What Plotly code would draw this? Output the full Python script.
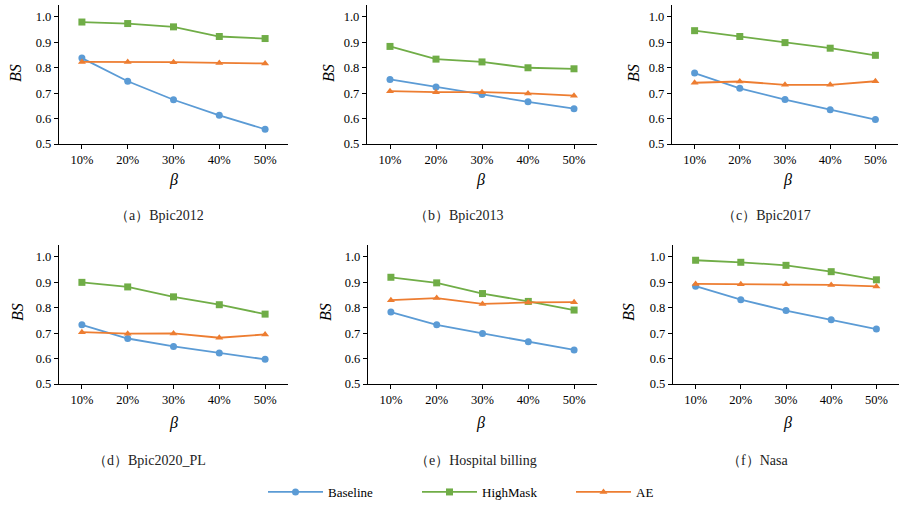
import plotly.graph_objects as go

categories = ["10%", "20%", "30%", "40%", "50%"]
panel_titles = ["（a）Bpic2012", "（b）Bpic2013", "（c）Bpic2017",
                "（d）Bpic2020_PL", "（e）Hospital billing", "（f）Nasa"]

baseline = [
    [0.838, 0.747, 0.674, 0.613, 0.558],
    [0.754, 0.724, 0.695, 0.666, 0.639],
    [0.779, 0.719, 0.675, 0.635, 0.596],
    [0.733, 0.679, 0.648, 0.622, 0.597],
    [0.783, 0.733, 0.699, 0.666, 0.634],
    [0.885, 0.832, 0.789, 0.753, 0.716],
]
highmask = [
    [0.980, 0.974, 0.961, 0.923, 0.915],
    [0.884, 0.834, 0.823, 0.800, 0.796],
    [0.946, 0.923, 0.899, 0.877, 0.849],
    [0.900, 0.882, 0.843, 0.812, 0.775],
    [0.920, 0.898, 0.856, 0.825, 0.791],
    [0.987, 0.979, 0.967, 0.942, 0.910],
]
ae = [
    [0.823, 0.823, 0.822, 0.819, 0.817],
    [0.708, 0.704, 0.704, 0.699, 0.690],
    [0.741, 0.746, 0.733, 0.733, 0.747],
    [0.704, 0.698, 0.699, 0.682, 0.695],
    [0.830, 0.838, 0.815, 0.821, 0.822],
    [0.894, 0.893, 0.893, 0.890, 0.884],
]
y_ticks = [0.5, 0.6, 0.7, 0.8, 0.9, 1.0]

W, H = 899, 506
BLUE, GREEN, ORANGE = "#5B9BD5", "#70AD47", "#ED7D31"
SERIF = "Liberation Serif"

# plot-area pixel boxes: (left, right, top, bottom)
boxes = [
    (59, 288, 5, 144), (367, 597, 5, 144), (672, 898, 5, 144),
    (59, 288, 245, 384), (368, 597, 245, 384), (673, 899, 245, 384),
]
bs_pos = [(15, 73), (328, 73), (633, 73), (17, 312), (325, 312), (628, 312)]
beta_pos = [(173, 180), (480, 180), (787, 180), (173, 423), (480, 423), (787, 423)]
title_pos = [(159, 215), (458, 215), (766, 215), (149, 460), (476, 460), (757, 460)]

def px(x):
    return x / W

def py(y):
    return 1 - y / H

fig = go.Figure()
series = [("Baseline", baseline, BLUE, "circle"),
          ("HighMask", highmask, GREEN, "square"),
          ("AE", ae, ORANGE, "triangle-up")]

def label(x, y, text, size, angle=0, color="black"):
    fig.add_annotation(x=px(x), y=py(y), xref="paper", yref="paper",
                       xanchor="center", yanchor="middle",
                       text=text, showarrow=False, textangle=angle,
                       font=dict(family=SERIF, size=size, color=color))

for i in range(6):
    ax = "" if i == 0 else str(i + 1)
    for name, data, color, sym in series:
        fig.add_trace(go.Scatter(
            x=categories, y=data[i], name=name, mode="lines+markers",
            line=dict(color=color, width=1.8),
            marker=dict(symbol=sym, size=7, color=color),
            xaxis="x" + ax, yaxis="y" + ax,
            showlegend=(i == 0), legendgroup=name,
        ))
    l, r, t, b = boxes[i]
    axis_common = dict(showline=True, linecolor="black", linewidth=1.3,
                       ticks="outside", ticklen=4, tickcolor="black",
                       showgrid=False, zeroline=False, automargin=False,
                       tickfont=dict(family=SERIF, size=12.5, color="black"))
    fig.layout["xaxis" + ax] = dict(
        domain=[px(l), min(px(r), 1)], anchor="y" + ax,
        type="category", categoryorder="array", categoryarray=categories,
        range=[-0.5, 4.5], **axis_common)
    fig.layout["yaxis" + ax] = dict(
        domain=[py(b), py(t)], anchor="x" + ax,
        range=[0.5, 1.047], tickvals=y_ticks, ticktext=["%.1f" % v for v in y_ticks],
        **axis_common)
    label(bs_pos[i][0], bs_pos[i][1], "<i>BS</i>", 16, angle=-90)
    label(beta_pos[i][0], beta_pos[i][1], "<i>β</i>", 16)
    label(title_pos[i][0], title_pos[i][1], panel_titles[i], 14, color="#222")

fig.update_layout(
    width=W, height=H,
    margin=dict(l=0, r=0, t=0, b=0, autoexpand=False),
    paper_bgcolor="white", plot_bgcolor="white",
    legend=dict(orientation="h", x=px(263), xanchor="left", y=py(492), yanchor="middle",
                entrywidth=84, itemwidth=55,
                font=dict(family=SERIF, size=13, color="black"),
                bgcolor="rgba(0,0,0,0)"),
    showlegend=True,
)

fig.write_html("out.html", config={"displayModeBar": False},
               post_script="document.body.style.margin='0';document.body.style.overflow='hidden';")
